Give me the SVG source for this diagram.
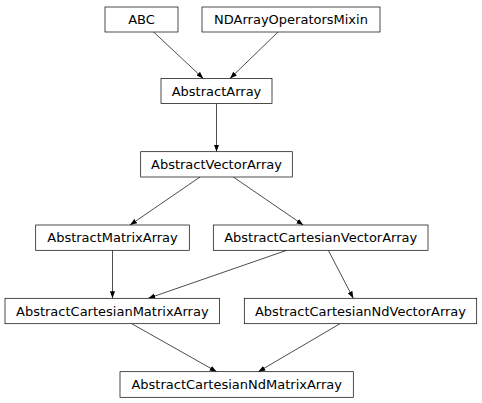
<svg xmlns="http://www.w3.org/2000/svg" width="482" height="403" viewBox="0 0 482 403">
<style>
.node rect{fill:#fff;stroke:#000;stroke-width:0.7}
.node text{font-family:"DejaVu Sans","Liberation Sans",sans-serif;font-size:13px;text-anchor:middle;fill:#000}
.edges line{stroke:#000;stroke-width:0.7;marker-end:url(#arr)}
</style>
<defs>
<marker id="arr" markerUnits="userSpaceOnUse" viewBox="0 -3 7 6" refX="7" refY="0" markerWidth="7" markerHeight="6" orient="auto">
<path d="M0,-2.6L7,0L0,2.6z" fill="#000"/>
</marker>
</defs>
<rect width="482" height="403" fill="#fff"/>
<g class="edges">
<line x1="153.3" y1="31.7" x2="203.3" y2="78.5"/>
<line x1="278.3" y1="31.7" x2="230" y2="78.5"/>
<line x1="216.5" y1="103.5" x2="216.5" y2="151.7"/>
<line x1="200" y1="177" x2="130" y2="225"/>
<line x1="233.3" y1="177" x2="303.3" y2="225"/>
<line x1="112.5" y1="250.3" x2="112.5" y2="298.3"/>
<line x1="286.7" y1="250.3" x2="148.3" y2="298.3"/>
<line x1="328.3" y1="250.3" x2="353.3" y2="298.3"/>
<line x1="131.7" y1="323.7" x2="216.7" y2="371.7"/>
<line x1="340" y1="323.7" x2="258.3" y2="371.7"/>
</g>
<g id="ABC" class="node"><rect x="105" y="7" width="73" height="25"/><text x="141.5" y="24">ABC</text></g>
<g id="NDArrayOperatorsMixin" class="node"><rect x="202" y="7" width="178" height="25"/><text x="291" y="24">NDArrayOperatorsMixin</text></g>
<g id="AbstractArray" class="node"><rect x="161" y="78.5" width="111" height="25"/><text x="216.5" y="95.5">AbstractArray</text></g>
<g id="AbstractVectorArray" class="node"><rect x="140.7" y="151.7" width="151.6" height="25.3"/><text x="216.5" y="168.8">AbstractVectorArray</text></g>
<g id="AbstractMatrixArray" class="node"><rect x="35.7" y="225" width="153.6" height="25.3"/><text x="112.5" y="242.1">AbstractMatrixArray</text></g>
<g id="AbstractCartesianVectorArray" class="node"><rect x="213.3" y="225" width="214.7" height="25.3"/><text x="320.7" y="242.1">AbstractCartesianVectorArray</text></g>
<g id="AbstractCartesianMatrixArray" class="node"><rect x="5" y="298.3" width="214.5" height="25.4"/><text x="112.3" y="315.5">AbstractCartesianMatrixArray</text></g>
<g id="AbstractCartesianNdVectorArray" class="node"><rect x="244.3" y="298.3" width="232.4" height="25.4"/><text x="360.5" y="315.5">AbstractCartesianNdVectorArray</text></g>
<g id="AbstractCartesianNdMatrixArray" class="node"><rect x="120" y="371.7" width="233.3" height="25.6"/><text x="236.7" y="389">AbstractCartesianNdMatrixArray</text></g>
</svg>
